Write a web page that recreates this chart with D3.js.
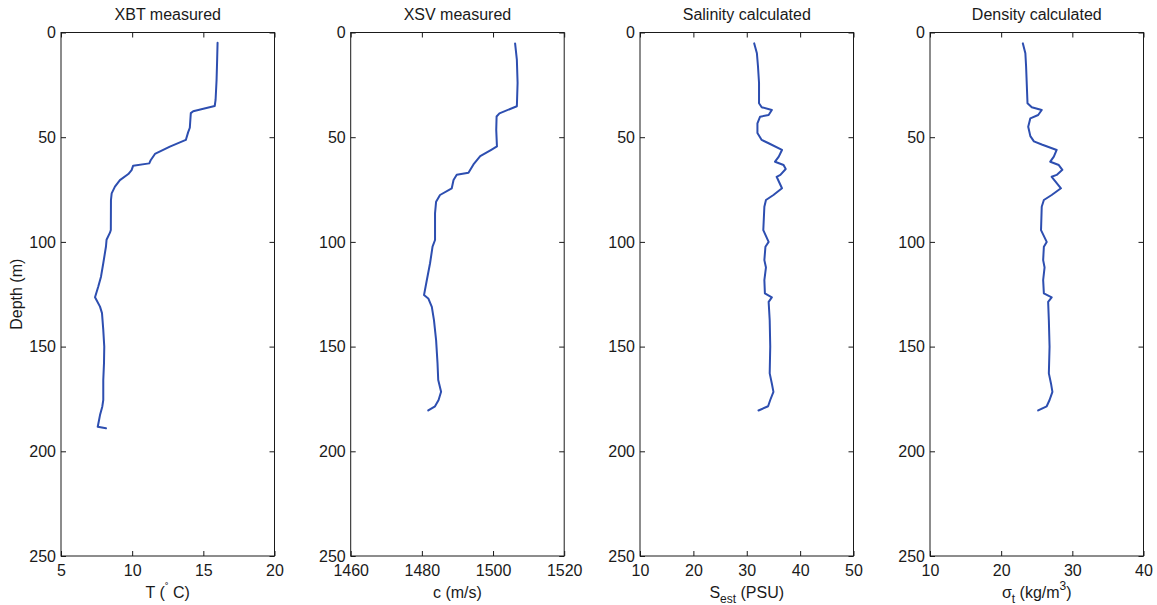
<!DOCTYPE html>
<html lang="en">
<head>
<meta charset="UTF-8">
<title>XBT / XSV profiles</title>
<script src="https://d3js.org/d3.v7.min.js"></script>
<style>
    body { margin: 0; background: #fff; }
    svg text { font-family: "Liberation Sans", Arial, Helvetica, sans-serif; fill: #1a1a1a; }
</style>
</head>
<body>
<div id="chart"></div>
<script>
    // depth axis shared by all four panels
    var depthTicks = [0, 50, 100, 150, 200, 250];

    // XBT temperature profile (deg C vs depth m)
    var xbtDepth = [4.9, 13.1, 22.7, 32.2, 35.1, 36.4, 37.6, 38.5, 45.5, 47.7, 51.3, 54.5, 58, 61, 62.5, 63.6, 65.7, 67.6, 70.5, 73.6, 76.8, 80, 94.3, 95.6, 99, 102.2, 110.2, 116.6, 121.3, 126.4, 130.9, 134, 142, 150, 158, 166, 175.5, 178.7, 182.7, 185.9, 188.3, 189];
    var xbtTemp  = [16.0, 15.97, 15.93, 15.86, 15.8, 15.0, 14.29, 14.12, 14.05, 13.93, 13.77, 12.65, 11.6, 11.3, 11.2, 10.07, 9.96, 9.73, 9.14, 8.79, 8.56, 8.51, 8.5, 8.44, 8.2, 8.16, 7.97, 7.81, 7.62, 7.39, 7.74, 7.88, 7.97, 8.04, 8.02, 7.97, 7.97, 7.9, 7.74, 7.65, 7.58, 8.16];

    // XSV sound speed profile (m/s)
    var xsvDepth = [5.2, 13.1, 24, 35.2, 38.6, 40.1, 46.5, 54.4, 56, 59, 63, 67, 67.9, 70.4, 74.4, 77.6, 80.8, 86.4, 99.1, 102.3, 110.2, 118.2, 125.4, 127, 131, 137.4, 146.9, 158, 166, 171.6, 175.5, 178.5, 180.5];
    var xsvSpeed = [1506.2, 1506.7, 1506.9, 1506.7, 1501.8, 1501, 1500.9, 1501.1, 1499.5, 1496.4, 1494.5, 1493.1, 1489.8, 1488.9, 1488.4, 1485.1, 1484, 1483.7, 1483.7, 1483, 1482.3, 1481.4, 1480.6, 1481.8, 1482.8, 1483.4, 1484, 1484.4, 1484.6, 1485.4, 1484.7, 1483.7, 1481.8];

    // salinity estimate (PSU)
    var salDepth = [5.2, 9.9, 16, 24, 33.8, 35.7, 37, 39.4, 40.2, 43.4, 48, 51.3, 52.9, 56.1, 59.3, 61.7, 63.3, 65.2, 68, 68.9, 74.4, 77.6, 80, 83.2, 94.4, 100, 102.3, 108.7, 112.2, 118.2, 124.6, 126.5, 128.6, 137.4, 150, 162.8, 167.6, 171.6, 175.5, 178.5, 180.5];
    var salValue = [31.4, 31.9, 32.1, 32.3, 32.3, 32.8, 34.7, 34.1, 32.5, 32.0, 32.0, 32.8, 34.1, 36.6, 36.0, 35.3, 36.9, 37.3, 36.3, 35.6, 36.6, 35.0, 33.6, 33.3, 33.1, 34.1, 33.5, 33.3, 33.6, 33.3, 33.4, 34.7, 34.1, 34.3, 34.4, 34.3, 34.7, 35.0, 34.4, 34.0, 32.2];

    // density sigma-t (kg/m^3)
    var denDepth = [5.2, 9.9, 16, 33.8, 35.7, 37, 39.4, 41, 45, 49.5, 52, 53.5, 56.1, 59.3, 61.7, 63.3, 65.6, 68, 68.9, 74.4, 77.6, 80, 83.2, 94.4, 100, 102.3, 108.7, 112.2, 118.2, 124.6, 126.5, 128.6, 137.4, 150, 162.8, 167.6, 171.6, 175.5, 178.5, 180.5];
    var denValue = [23.05, 23.4, 23.5, 23.7, 24.3, 25.7, 25.2, 24.1, 23.8, 24.1, 24.6, 25.7, 27.8, 27.4, 26.9, 28.1, 28.6, 27.8, 27.1, 28.4, 27.1, 26.0, 25.7, 25.6, 26.4, 26.0, 25.9, 26.1, 25.9, 26.0, 27.1, 26.6, 26.7, 26.8, 26.7, 27.0, 27.2, 26.8, 26.4, 25.2];

    var panelTitles = ["XBT measured", "XSV measured", "Salinity calculated", "Density calculated"];
    var xDomains = [[5, 20], [1460, 1520], [10, 50], [10, 40]];
    var xTicks = [[5, 10, 15, 20], [1460, 1480, 1500, 1520], [10, 20, 30, 40, 50], [10, 20, 30, 40]];

    var zip = function(depths, values) {
        return depths.map(function(d, i) { return { d: d, v: values[i] }; });
    };
    var profiles = [zip(xbtDepth, xbtTemp), zip(xsvDepth, xsvSpeed), zip(salDepth, salValue), zip(denDepth, denValue)];

    var width = 1157, height = 605;
    var lefts = [61, 350.7, 640, 930];
    var panelTop = 32.5, panelW = 213.5, panelH = 523.5;
    var tick = 5;

    var svg = d3.select("#chart").append("svg")
        .attr("width", width)
        .attr("height", height);

    var styleAxis = function(g) {
        g.attr("font-family", null).attr("font-size", 16);
        g.selectAll("path.domain").remove();
        g.selectAll(".tick line").attr("stroke", "#1a1a1a");
        g.selectAll(".tick text").attr("fill", "#1a1a1a");
    };

    profiles.forEach(function(profile, i) {
        var g = svg.append("g").attr("transform", "translate(" + lefts[i] + "," + panelTop + ")");

        var x = d3.scaleLinear().domain(xDomains[i]).range([0, panelW]);
        var y = d3.scaleLinear().domain([0, 250]).range([0, panelH]);

        g.append("g")
            .attr("transform", "translate(0," + panelH + ")")
            .call(d3.axisBottom(x).tickValues(xTicks[i]).tickFormat(d3.format("d"))
                .tickSize(-tick).tickSizeOuter(0).tickPadding(9))
            .call(styleAxis);
        g.append("g")
            .call(d3.axisTop(x).tickValues(xTicks[i]).tickSize(-tick).tickSizeOuter(0).tickFormat(""))
            .call(styleAxis);
        g.append("g")
            .call(d3.axisLeft(y).tickValues(depthTicks).tickSize(-tick).tickSizeOuter(0).tickPadding(5))
            .call(styleAxis);
        g.append("g")
            .attr("transform", "translate(" + panelW + ",0)")
            .call(d3.axisRight(y).tickValues(depthTicks).tickSize(-tick).tickSizeOuter(0).tickFormat(""))
            .call(styleAxis);

        g.append("rect")
            .attr("width", panelW)
            .attr("height", panelH)
            .attr("fill", "none")
            .attr("stroke", "#1a1a1a")
            .attr("stroke-width", 1);

        var line = d3.line()
            .x(function(p) { return x(p.v); })
            .y(function(p) { return y(p.d); });

        g.append("path")
            .datum(profile)
            .attr("d", line)
            .attr("fill", "none")
            .attr("stroke", "#2d4eb0")
            .attr("stroke-width", 2)
            .attr("stroke-linejoin", "round")
            .attr("stroke-linecap", "round");

        g.append("text")
            .attr("x", panelW / 2)
            .attr("y", -13)
            .attr("text-anchor", "middle")
            .attr("font-size", 16)
            .text(panelTitles[i]);

        // x axis label, with sub/superscripts
        var label = g.append("text")
            .attr("x", panelW / 2)
            .attr("y", panelH + 42)
            .attr("text-anchor", "middle")
            .attr("font-size", 16);
        if (i === 0) {
            label.append("tspan").text("T (");
            label.append("tspan").attr("dy", -7).attr("font-size", 11).text("\u02da");
            label.append("tspan").attr("dy", 7).text(" C)");
        } else if (i === 1) {
            label.text("c (m/s)");
        } else if (i === 2) {
            label.append("tspan").text("S");
            label.append("tspan").attr("dy", 5).attr("font-size", 12).text("est");
            label.append("tspan").attr("dy", -5).text(" (PSU)");
        } else {
            label.append("tspan").text("\u03c3");
            label.append("tspan").attr("dy", 5).attr("font-size", 12).text("t");
            label.append("tspan").attr("dy", -5).text(" (kg/m");
            label.append("tspan").attr("dy", -8).attr("font-size", 12).text("3");
            label.append("tspan").attr("dy", 8).text(")");
        }
    });

    svg.append("text")
        .attr("transform", "translate(22," + (panelTop + panelH / 2) + ") rotate(-90)")
        .attr("text-anchor", "middle")
        .attr("font-size", 16)
        .text("Depth (m)");
</script>
</body>
</html>
